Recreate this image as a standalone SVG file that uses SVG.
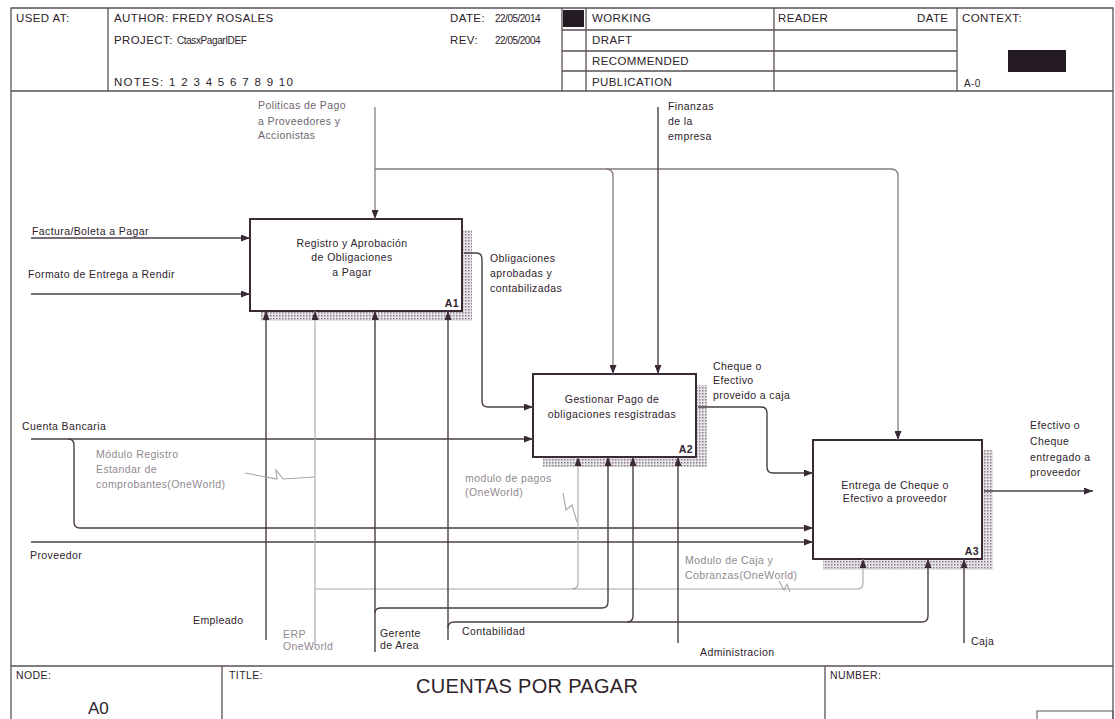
<svg xmlns="http://www.w3.org/2000/svg" width="1115" height="719" viewBox="0 0 1115 719">
<defs>
<style>
.frame{stroke:#5a5058;stroke-width:1.3;fill:none}
.ln{stroke:#4a3e48;stroke-width:1.4;fill:none}
.lm{stroke:#857a84;stroke-width:1.3;fill:none}
.lt{stroke:#aaa4aa;stroke-width:1.1;fill:none}
.box{fill:#fff;stroke:#3a2a36;stroke-width:2}
.sh{fill:url(#hatch)}
.t{font-family:'Liberation Sans',Arial,sans-serif;font-size:10.5px;fill:#2d232b;letter-spacing:0.4px}
.g{fill:#8f898f}
.gp{fill:#6e666d}
.h{font-family:'Liberation Sans',Arial,sans-serif;font-size:11.5px;fill:#2d232b;letter-spacing:0.4px}
.c{text-anchor:middle}
.e{text-anchor:end}
.b{font-weight:bold}
</style>
<pattern id="hatch" width="3" height="3" patternUnits="userSpaceOnUse">
<rect width="3" height="3" fill="#e6e2e6"/>
<rect width="1.5" height="1.5" fill="#8a8088"/>
</pattern>
<marker id="ar" markerWidth="9" markerHeight="7" refX="9" refY="3.5" orient="auto" markerUnits="userSpaceOnUse">
<path d="M0,0 L9,3.5 L0,7 z" fill="#3a2a36"/>
</marker>
</defs>
<rect width="1115" height="719" fill="#fff"/>

<g id="header">
<path class="frame" d="M11,719 V8 H1113 V719"/>
<path class="frame" d="M11,91 H1113 M108,8 V91 M562,8 V91 M586,8 V91 M774,8 V91 M957,8 V91 M562,30 H957 M562,51 H957 M562,71 H957"/>
<rect x="563" y="10" width="21" height="17" fill="#231a22"/>
<rect x="1008" y="50" width="58" height="22" fill="#231a22"/>
<text class="h" x="16" y="22">USED AT:</text>
<text class="h" x="114" y="22">AUTHOR: FREDY ROSALES</text>
<text class="h" x="114" y="44">PROJECT:</text>
<text class="h" x="177" y="44" style="font-size:10px;letter-spacing:-0.4px">CtasxPagarIDEF</text>
<text class="h" x="114" y="86" style="letter-spacing:1.3px">NOTES: 1 2 3 4 5 6 7 8 9 10</text>
<text class="h" x="450" y="22">DATE:</text>
<text class="h" x="495" y="22" style="font-size:10px;letter-spacing:-0.5px">22/05/2014</text>
<text class="h" x="450" y="44">REV:</text>
<text class="h" x="495" y="44" style="font-size:10px;letter-spacing:-0.5px">22/05/2004</text>
<text class="h" x="592" y="22">WORKING</text>
<text class="h" x="592" y="44">DRAFT</text>
<text class="h" x="592" y="65">RECOMMENDED</text>
<text class="h" x="592" y="86">PUBLICATION</text>
<text class="h" x="778" y="22">READER</text>
<text class="h" x="917" y="22">DATE</text>
<text class="h" x="962" y="22">CONTEXT:</text>
<text class="h" x="964" y="87" style="font-size:10px">A-0</text>
</g>

<g id="footer">
<path class="frame" d="M11,666 H1113 M222,666 V719 M825,666 V719"/>
<rect x="1037" y="711" width="76" height="10" fill="none" stroke="#5a5058" stroke-width="1"/>
<text class="h" x="16" y="679" style="font-size:10.5px">NODE:</text>
<text class="h" x="88" y="714" style="font-size:17px;letter-spacing:0">A0</text>
<text class="h" x="229" y="679" style="font-size:10.5px">TITLE:</text>
<text class="h" x="416" y="693" style="font-size:20px;letter-spacing:0.3px">CUENTAS POR PAGAR</text>
<text class="h" x="830" y="679" style="font-size:10.5px">NUMBER:</text>
</g>

<g id="A1">
<rect class="sh" x="462" y="230" width="10" height="91"/>
<rect class="sh" x="261" y="311" width="211" height="10"/>
<rect class="box" x="250" y="219" width="212" height="92"/>
<text class="t c" x="352" y="247">Registro y Aprobación</text>
<text class="t c" x="352" y="261">de Obligaciones</text>
<text class="t c" x="352" y="276">a Pagar</text>
<text class="t e b" x="459" y="307">A1</text>
</g>
<g id="A2">
<rect class="sh" x="696" y="385" width="11" height="82"/>
<rect class="sh" x="543" y="457" width="164" height="10"/>
<rect class="box" x="533" y="374" width="163" height="83"/>
<text class="t c" x="612" y="403">Gestionar Pago de</text>
<text class="t c" x="612" y="418">obligaciones resgistradas</text>
<text class="t e b" x="693" y="453">A2</text>
</g>
<g id="A3">
<rect class="sh" x="982" y="450" width="11" height="120"/>
<rect class="sh" x="823" y="559" width="170" height="11"/>
<rect class="box" x="813" y="440" width="169" height="119"/>
<text class="t c" x="895" y="489">Entrega de Cheque o</text>
<text class="t c" x="895" y="502">Efectivo a proveedor</text>
<text class="t e b" x="979" y="555">A3</text>
</g>

<g id="connectors">
<path class="ln" d="M31,238 H250" marker-end="url(#ar)"/>
<path class="ln" d="M31,294 H250" marker-end="url(#ar)"/>
<path class="lm" d="M375,107 V219" marker-end="url(#ar)"/>
<path class="lm" d="M375,169 H891 q7,0 7,7 V440" marker-end="url(#ar)"/>
<path class="lm" d="M606,169 q7,0 7,7 V374" marker-end="url(#ar)"/>
<path class="ln" d="M658,107 V374" marker-end="url(#ar)"/>
<path class="ln" d="M464,253 H476 q6,0 6,6 V401 q0,6 6,6 H533" marker-end="url(#ar)"/>
<path class="ln" d="M31,439 H533" marker-end="url(#ar)"/>
<path class="ln" d="M68,439 q6,0 6,6 V522 q0,6 6,6 H813" marker-end="url(#ar)"/>
<path class="ln" d="M31,542 H813" marker-end="url(#ar)"/>
<path class="ln" d="M698,407 H761 q6,0 6,6 V467 q0,6 6,6 H813" marker-end="url(#ar)"/>
<path class="ln" d="M984,491 H1093" marker-end="url(#ar)"/>
<path class="ln" d="M266,640 V311" marker-end="url(#ar)"/>
<path class="lt" d="M315,645 V311" marker-end="url(#ar)"/>
<path class="lt" d="M315,589 H857 q6,0 6,-6 V559" marker-end="url(#ar)"/>
<path class="lt" d="M572,589 q6,0 6,-6 V457" marker-end="url(#ar)"/>
<path class="ln" d="M375,652 V311" marker-end="url(#ar)"/>
<path class="ln" d="M375,613 q0,-5 6,-5 H602 q6,0 6,-6 V457" marker-end="url(#ar)"/>
<path class="ln" d="M448,640 V311" marker-end="url(#ar)"/>
<path class="ln" d="M448,628 q0,-6 6,-6 H922 q6,0 6,-6 V559" marker-end="url(#ar)"/>
<path class="ln" d="M627,622 q6,0 6,-6 V457" marker-end="url(#ar)"/>
<path class="ln" d="M678,643 V457" marker-end="url(#ar)"/>
<path class="ln" d="M964,643 V559" marker-end="url(#ar)"/>
<path class="lt" d="M245,473 L277,479 L276,470 L283,479 L315,477"/>
<path class="lt" d="M563,493 L566,510 L572,505 L577,522"/>
<path class="lt" d="M779,581 L784,590 L787,584 L790,592"/>
</g>

<g id="labels">
<text class="t gp" x="258" y="109">Politicas de Pago</text>
<text class="t gp" x="258" y="125">a Proveedores y</text>
<text class="t gp" x="258" y="139">Accionistas</text>
<text class="t" x="668" y="110">Finanzas</text>
<text class="t" x="668" y="125">de la</text>
<text class="t" x="668" y="140">empresa</text>
<text class="t" x="32" y="235">Factura/Boleta a Pagar</text>
<text class="t" x="28" y="278">Formato de Entrega a Rendir</text>
<text class="t" x="490" y="262">Obligaciones</text>
<text class="t" x="490" y="277">aprobadas y</text>
<text class="t" x="490" y="292">contabilizadas</text>
<text class="t" x="22" y="430">Cuenta Bancaria</text>
<text class="t g" x="96" y="458">Módulo Registro</text>
<text class="t g" x="96" y="473">Estandar de</text>
<text class="t g" x="96" y="488">comprobantes(OneWorld)</text>
<text class="t g" x="465" y="482">modulo de pagos</text>
<text class="t g" x="465" y="496">(OneWorld)</text>
<text class="t" x="30" y="559">Proveedor</text>
<text class="t" x="713" y="370">Cheque o</text>
<text class="t" x="713" y="384">Efectivo</text>
<text class="t" x="713" y="399">proveido a caja</text>
<text class="t" x="1030" y="429">Efectivo o</text>
<text class="t" x="1030" y="445">Cheque</text>
<text class="t" x="1030" y="461">entregado a</text>
<text class="t" x="1030" y="476">proveedor</text>
<text class="t g" x="685" y="564">Modulo de Caja y</text>
<text class="t g" x="685" y="579">Cobranzas(OneWorld)</text>
<text class="t" x="193" y="624">Empleado</text>
<text class="t g" x="283" y="638">ERP</text>
<text class="t g" x="283" y="650">OneWorld</text>
<text class="t" x="380" y="637">Gerente</text>
<text class="t" x="380" y="649">de Area</text>
<text class="t" x="462" y="635">Contabilidad</text>
<text class="t" x="700" y="656">Administracion</text>
<text class="t" x="971" y="645">Caja</text>
</g>
</svg>
